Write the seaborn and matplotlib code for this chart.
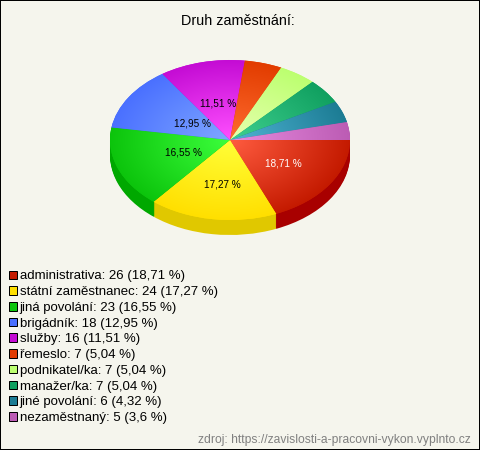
import numpy as np
import matplotlib
matplotlib.use("Agg")
import matplotlib.pyplot as plt
from matplotlib.colors import to_rgb
from matplotlib.patches import Patch
import seaborn as sns

title = "Druh zaměstnání:"
source = "zdroj: https://zavislosti-a-pracovni-vykon.vyplnto.cz"
categories = ["administrativa", "státní zaměstnanec", "jiná povolání", "brigádník", "služby",
              "řemeslo", "podnikatel/ka", "manažer/ka", "jiné povolání", "nezaměstnaný"]
counts = [26, 24, 23, 18, 16, 7, 7, 7, 6, 5]

edge_colors = ["#c41a00", "#ffdf00", "#0cc40c", "#4a70ff", "#c40cd4",
               "#e23c00", "#bcff70", "#10a060", "#1c7c94", "#bc5cb4"]
center_colors = ["#ff5c40", "#ffff38", "#3cff3c", "#80a8ff", "#ff50ff",
                 "#ff6c30", "#e8ffb0", "#40d090", "#50b4d4", "#e88ce0"]
side_colors = ["#a80000", "#e0c800", "#00a800", "#3050c0", "#9000a0",
               "#b03000", "#90c050", "#087848", "#105c70", "#904488"]
label_radii = [0.52, 0.56, 0.43, 0.39, 0.47]

sns.set_theme(style="white")
BG = "#f5f5ed"
plt.rcParams["font.family"] = ["Liberation Sans", "DejaVu Sans"]
W, H = 480, 450
DPI = 100
px = lambda v: v * 72 / DPI

fig = plt.figure(figsize=(W / DPI, H / DPI), dpi=DPI, facecolor=BG)
fig.patch.set_edgecolor("black")
fig.patch.set_linewidth(px(2))

# pie ellipse: centre (230,140), radii 120 x 80 px
cx, cy, rx, ry, depth = 230, 140, 120, 80, 15
ax = fig.add_axes([(cx - rx) / W, 1 - (cy + ry) / H, 2 * rx / W, 2 * ry / H])

for d in range(depth, 0, -1):
    ax.pie(counts, colors=sns.color_palette(side_colors), startangle=0, counterclock=False,
           center=(0, -d / ry), radius=1, wedgeprops={"clip_on": False, "linewidth": 0})

fmt_pct = lambda p: f"{round(p, 2):g}".replace(".", ",") + " %"
wedges, _, autotexts = ax.pie(
    counts, colors=sns.color_palette(edge_colors), startangle=0, counterclock=False,
    radius=1, wedgeprops={"clip_on": False, "linewidth": 0},
    autopct=lambda p: fmt_pct(p) if p > 6 else "", pctdistance=0.5,
    textprops={"fontsize": px(10), "color": "black"})

yy, xx = np.mgrid[-1:1:400j, -1:1:400j]
t = np.clip(np.hypot(xx, yy), 0, 1)[..., None]
for w, c0, c1 in zip(wedges, center_colors, edge_colors):
    rgb = np.array(to_rgb(c0)) * (1 - t) + np.array(to_rgb(c1)) * t
    im = ax.imshow(rgb, extent=(-1, 1, -1, 1), origin="lower", aspect="auto", zorder=2)
    im.set_clip_path(w)

for txt, w, r in zip(autotexts, wedges, label_radii):
    a = np.deg2rad((w.theta1 + w.theta2) / 2)
    txt.set_position((r * np.cos(a) + 0.015, r * np.sin(a)))
    txt.set_zorder(5)
autotexts[0].set_color("white")

ax.set_aspect("auto")
ax.set_xlim(-1, 1)
ax.set_ylim(-1, 1)
ax.axis("off")

fig.text(237.5 / W, 1 - 21 / H, title, ha="center", va="center", fontsize=px(14.4), color="black")
fig.text(471 / W, 1 - 440 / H, source, ha="right", va="center", fontsize=px(12.1), color="#808080")

def count_label(name, n):
    return f"{name}: {n} ({fmt_pct(n / sum(counts) * 100).replace(' %', '')} %)"

handles = [Patch(facecolor=c, edgecolor="black", linewidth=px(1), label=count_label(n, v))
           for c, n, v in zip(edge_colors, categories, counts)]
fig.legend(handles=handles, loc="upper left", bbox_to_anchor=(9 / W, 1 - 270.5 / H),
           bbox_transform=fig.transFigure, frameon=False, fontsize=px(13.3), borderpad=0,
           borderaxespad=0, handlelength=0.62, handleheight=0.62, handletextpad=0.18,
           labelspacing=0.28, labelcolor="black")

fig.savefig("out.png", dpi=DPI, facecolor=BG, edgecolor="black")
